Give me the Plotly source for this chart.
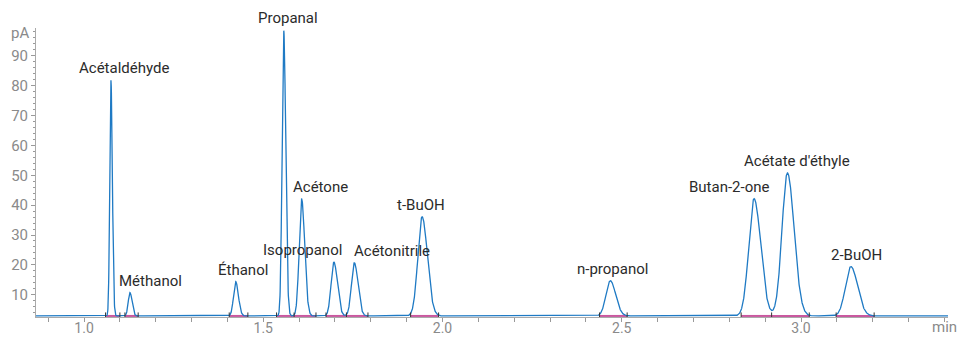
import numpy as np
import plotly.graph_objects as go

# ---- data ----
compounds = ["Acétaldéhyde", "Méthanol", "Éthanol", "Propanal", "Acétone", "Isopropanol",
             "Acétonitrile", "t-BuOH", "n-propanol", "Butan-2-one", "Acétate d'éthyle", "2-BuOH"]
retention_min = [1.075, 1.128, 1.423, 1.557, 1.607, 1.697, 1.754, 1.943, 2.468, 2.869, 2.962, 3.139]
apex_pA = [81.8, 10.75, 14.4, 98.5, 42.05, 20.9, 20.7, 36.1, 14.7, 42.15, 50.8, 19.45]
peak_sigma_min = [0.0032, 0.0047, 0.0060, 0.0045, 0.0068, 0.0078, 0.0080, 0.0118, 0.0120, 0.0148, 0.0150, 0.0150]
integ_start = [1.060, 1.114, 1.405, 1.537, 1.586, 1.675, 1.732, 1.911, 2.438, 2.833, 2.918, 3.098]
integ_end = [1.100, 1.151, 1.457, 1.586, 1.647, 1.732, 1.792, 1.989, 2.515, 2.918, 3.023, 3.204]
baseline_pA = 2.9
y_ticks = [10, 20, 30, 40, 50, 60, 70, 80, 90]
x_ticks = [1.0, 1.5, 2.0, 2.5, 3.0]

# label offsets (layout, pixels)
label_dx = [13, 21, 7, 4, 19, -31, 38, -1, 2, -25, 10, 6]

X_RANGE = [0.866, 3.41]
Y_RANGE = [2.55, 99.3]

t = np.linspace(X_RANGE[0], X_RANGE[1], 6000)
signal = np.full_like(t, baseline_pA)
for rt, h, s in zip(retention_min, apex_pA, peak_sigma_min):
    amp = h - baseline_pA
    left = np.exp(-0.5 * ((t - rt) / s) ** 2)
    right = np.exp(-0.5 * ((t - rt) / (s * 1.25)) ** 2)
    signal += amp * np.where(t < rt, left, right)

fig = go.Figure()

# integration baselines (pink)
for a, b in zip(integ_start, integ_end):
    fig.add_trace(go.Scatter(x=[a, b], y=[baseline_pA, baseline_pA], mode="lines",
                             line=dict(color="#c9589f", width=2), hoverinfo="skip", showlegend=False))

fig.add_trace(go.Scatter(x=t, y=signal, mode="lines", line=dict(color="#1f7ac4", width=1.3),
                         showlegend=False, hoverinfo="skip"))

# integration marks
marks = sorted(set(integ_start + integ_end))
fig.add_trace(go.Scatter(x=marks, y=[baseline_pA] * len(marks), mode="markers",
                         marker=dict(symbol="line-ns", size=5, line=dict(color="#333", width=1)),
                         showlegend=False, hoverinfo="skip"))

for name, rt, h, dx in zip(compounds, retention_min, apex_pA, label_dx):
    fig.add_annotation(x=rt, y=h, text=name, showarrow=False, xanchor="center", yanchor="middle",
                       xshift=dx, yshift=12, font=dict(family="Roboto", size=15, color="#2b2b2b"))

fig.add_annotation(x=0, xref="paper", y=97.7, yref="y", text="pA", showarrow=False,
                   xanchor="right", xshift=-5, font=dict(family="Roboto", size=15, color="#8a8a8a"))
fig.add_annotation(x=1, xref="paper", y=0, yref="paper", text="min", showarrow=False,
                   xanchor="center", yanchor="middle", xshift=-4, yshift=-10,
                   font=dict(family="Roboto", size=15, color="#8a8a8a"))

fig.update_layout(
    width=959, height=337,
    margin=dict(l=36, r=11, t=28, b=20),
    plot_bgcolor="white", paper_bgcolor="white",
    font=dict(family="Roboto", size=15, color="#8a8a8a"),
    xaxis=dict(range=X_RANGE, tickvals=x_ticks, ticktext=[f"{v:.1f}" for v in x_ticks],
               ticks="outside", ticklen=4, tickcolor="#999", showline=True, linecolor="#aaa",
               showgrid=False, zeroline=False, automargin=False, ticklabelstandoff=-6,
               tickfont=dict(size=14),
               minor=dict(dtick=0.1, tick0=0, ticks="outside", ticklen=4, tickcolor="#999", showgrid=False)),
    yaxis=dict(range=Y_RANGE, tickvals=y_ticks, ticks="outside", ticklen=4, tickcolor="#999",
               showline=True, linecolor="#aaa", showgrid=False, zeroline=False, automargin=False,
               minor=dict(dtick=2, tick0=0, ticks="outside", ticklen=2, tickcolor="#999", showgrid=False)),
)

fig.write_html("out.html")
